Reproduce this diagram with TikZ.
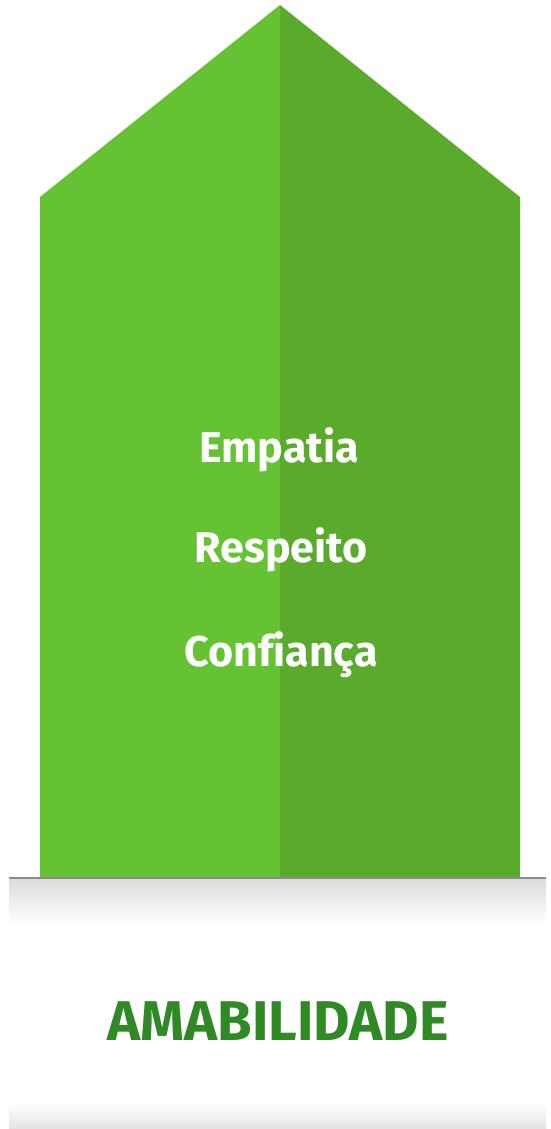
\documentclass[tikz,border=0pt]{standalone}
\usepackage{fontspec}
\setmainfont{Fira Sans}
\usepackage{tikz}
\usetikzlibrary{positioning,calc}
\definecolor{leftgreen}{HTML}{65C232}
\definecolor{rightgreen}{HTML}{5AAA2C}
\definecolor{textgreen}{HTML}{2F8A25}
\definecolor{edgegray}{HTML}{8C8C8C}

\begin{document}
\begin{tikzpicture}[
    x=1pt, y=1pt,
    value/.style={anchor=base, text=white, font=\fontsize{43}{43}\selectfont\bfseries},
    title/.style={anchor=base, text=textgreen, font=\fontsize{56}{56}\selectfont\bfseries}
]
\useasboundingbox (0,0) rectangle (550,1129);

% Plinth
\fill[top color=gray!28, bottom color=white] (9,204) rectangle (546,251);
\fill[top color=white, bottom color=gray!22] (9,0) rectangle (546,26);

% Arrow body, two halves
\fill[leftgreen]  (40,251) -- (40,932) -- (280,1124) -- (280,251) -- cycle;
\fill[rightgreen] (280,251) -- (280,1124) -- (520,932) -- (520,251) -- cycle;

% Edge of plinth
\draw[edgegray, line width=2pt] (9,251) -- (546,251);

% Values
\node[value] (emp) at (279,666) {Empatia};
\node[value] (res) at (281,566) {Respeito};
\node[value] (con) at (281,462) {Conf\kern0pt iança};

% Title
\node[title] (ama) at (278,88) {AMABILIDADE};

\end{tikzpicture}
\end{document}
